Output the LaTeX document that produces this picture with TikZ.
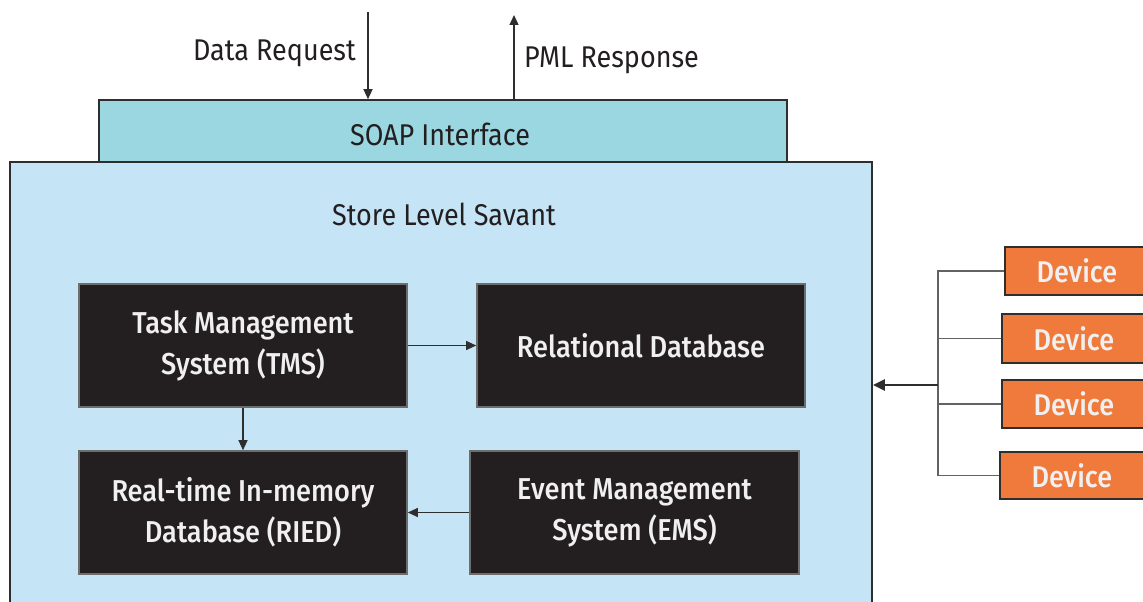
\documentclass[tikz,border=0pt]{standalone}
\usepackage{fontspec}
\setmainfont{Fira Sans}[FakeStretch=0.9,UprightFont=* Medium]
\newfontfamily\lblfont{Fira Sans}[FakeStretch=0.9]
\usetikzlibrary{arrows.meta}
\definecolor{soapfill}{HTML}{9AD7E1}
\definecolor{slsfill}{HTML}{C5E4F6}
\definecolor{boxdark}{HTML}{231F20}
\definecolor{devorange}{HTML}{F07A3C}
\definecolor{edgecol}{HTML}{2E2E2E}
\definecolor{textdark}{HTML}{231F20}
\definecolor{textlight}{HTML}{F0F0F0}
\begin{document}
\begin{tikzpicture}[x=1pt,y=-1pt,
  arr/.style={draw=edgecol,line width=1.4pt,-{Triangle[length=10pt,width=9pt]}},
  thinline/.style={draw=edgecol!75,line width=1.8pt},
  panel/.style={draw=edgecol,line width=1.6pt,inner sep=0pt},
  darkbox/.style={panel,fill=boxdark,draw=edgecol!70,text=textlight,align=center,font=\fontsize{30.2}{41}\selectfont,minimum width=328pt,minimum height=123pt},
  devbox/.style={panel,fill=devorange,text=textlight,font=\fontsize{30}{36}\selectfont,minimum width=144pt,anchor=west},
  lbl/.style={text=textdark,inner sep=0pt,font=\lblfont\fontsize{30}{36}\selectfont}]
\useasboundingbox (0,0) rectangle (1143,602);
\clip (0,0) rectangle (1143,602);
% main panels
\node[panel,fill=slsfill,minimum width=862pt,minimum height=458pt] (sls) at (441,391) {};
\node[lbl] (slstitle) at (444,214) {Store Level Savant};
\node[panel,fill=soapfill,minimum width=688pt,minimum height=62pt] (soap) at (443,131) {};
\node[lbl] (soaptext) at (440,134) {SOAP Interface};
% inner boxes
\node[darkbox] (tms) at (243,345.5) {Task Management\\System (TMS)};
\node[darkbox] (rdb) at (641,345.5) {Relational Database};
\node[darkbox] (ried) at (243,512.5) {Real-time In-memory\\Database (RIED)};
\node[darkbox,minimum width=329pt] (ems) at (634.5,512.5) {Event Management\\System (EMS)};
\draw[arr,line width=1.1pt] (tms) -- (rdb);
\draw[arr,line width=1.1pt] (tms) -- (ried);
\draw[arr,line width=1.1pt] (ems) -- (ried);
% top arrows
\coordinate (dr) at (368,12);
\coordinate (pml) at (514,15);
\draw[arr] (dr) -- (soap.north -| dr);
\draw[arr] (soap.north -| pml) -- (pml);
\node[lbl,anchor=east] (drtext) at (356,53) {Data Request};
\node[lbl,anchor=west] (pmltext) at (524,60) {PML Response};
% devices
\node[devbox,minimum height=48pt] (dev1) at (1004,271) {Device};
\node[devbox,minimum height=49pt] (dev2) at (1001,338.5) {Device};
\node[devbox,minimum height=48pt] (dev3) at (1001,404) {Device};
\node[devbox,minimum height=47pt] (dev4) at (999,475.5) {Device};
\coordinate (hub) at (938,385);
\draw[thinline] (dev1.west) -- (dev1.west -| hub) -- (dev4.west -| hub) -- (dev4.west);
\draw[thinline] (dev2.west) -- (dev2.west -| hub);
\draw[thinline] (dev3.west) -- (dev3.west -| hub);
\draw[draw=edgecol,line width=2.6pt,-{Triangle[length=12pt,width=11pt]}] (hub) -- (sls.east |- hub);
\end{tikzpicture}
\end{document}
